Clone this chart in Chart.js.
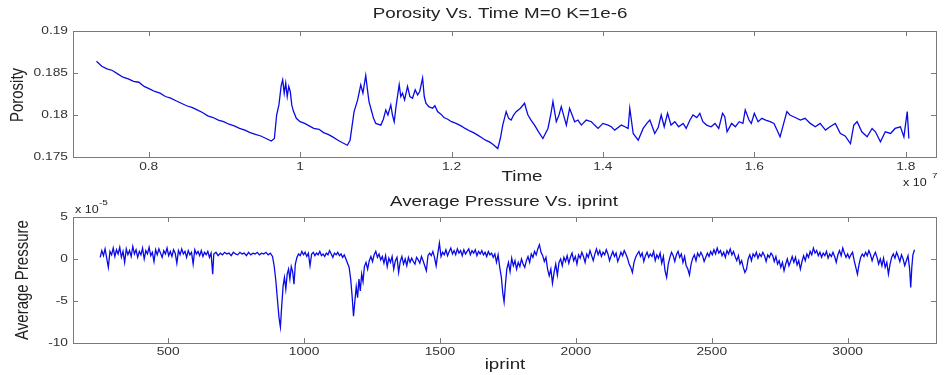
<!DOCTYPE html>
<html>
<head>
<meta charset="utf-8">
<script src="https://cdn.jsdelivr.net/npm/chart.js@4.4.1/dist/chart.umd.min.js"></script>
<style>
html, body { margin: 0; padding: 0; background: #fff; }
#wrap { position: relative; width: 946px; height: 375px; }
.box { position: absolute; left: 0; width: 946px; }
</style>
</head>
<body>
<div id="wrap">
  <div class="box" style="top:0;height:190px"><canvas id="porosityChart"></canvas></div>
  <div class="box" style="top:190px;height:185px"><canvas id="pressureChart"></canvas></div>
</div>
<script>
// porosity vs time (time in units of 1e7)
const timeE7 = [
  0.731,0.738,0.745,0.752,0.759,0.766,0.773,0.780,0.787,0.794,
  0.801,0.808,0.815,0.822,0.829,0.836,0.843,0.850,0.857,0.864,
  0.871,0.878,0.885,0.892,0.899,0.906,0.913,0.920,0.927,0.934,
  0.941,0.948,0.955,0.962,
  0.966,0.969,0.972,0.975,0.977,0.979,0.981,0.983,0.985,0.987,
  0.989,0.991,0.995,1.000,1.006,1.012,1.018,1.025,1.031,1.037,
  1.043,1.050,1.056,1.0625,
  1.066,1.0713,1.076,1.0801,1.083,1.0867,1.089,1.091,1.094,1.097,
  1.100,1.1066,1.110,1.1132,1.116,1.1198,1.122,1.1243,1.127,1.1309,
  1.133,1.1353,1.138,1.1419,1.145,1.1485,1.152,1.1552,1.158,1.1618,
  1.164,1.1662,1.170,1.175,1.178,1.1816,1.186,1.190,1.195,1.200,
  1.206,1.2126,1.218,1.224,1.229,1.2346,1.240,1.245,1.250,1.255,
  1.2611,1.2645,1.2677,1.2722,1.2755,1.2788,1.282,1.2854,1.291,1.2965,
  1.299,1.301,1.305,1.3097,1.315,1.3207,1.3274,1.331,1.334,1.3384,
  1.342,1.345,1.3517,1.356,1.3627,1.367,1.3715,1.378,1.3848,1.389,
  1.3936,1.400,1.4068,1.411,1.4156,1.4245,1.429,1.4333,1.4355,1.440,
  1.4466,1.4532,1.458,1.462,
  1.4685,1.473,1.477,1.481,1.4854,1.490,1.495,1.500,1.506,1.510,
  1.515,1.519,1.524,1.528,1.532,1.537,1.543,1.548,1.553,1.558,
  1.561,1.564,1.570,1.575,1.580,1.585,1.588,1.593,1.596,1.600,
  1.605,1.610,1.615,1.621,1.626,1.631,1.634,
  1.643,1.647,1.654,1.661,1.667,1.674,1.6805,1.687,1.694,1.700,
  1.707,1.7137,1.720,1.727,1.7314,1.7358,1.742,1.749,1.7556,1.760,
  1.7666,1.773,1.780,1.786,1.793,1.7976,1.802,1.8042
];
const porosity = [
  0.1864,0.1858,0.1855,0.1853,0.1849,0.1845,0.1843,0.1840,0.1839,0.1834,
  0.1831,0.1828,0.1826,0.1822,0.1820,0.1817,0.1814,0.1811,0.1809,0.1806,
  0.1803,0.1799,0.1797,0.1794,0.1792,0.1789,0.1787,0.1784,0.1782,0.1779,
  0.1777,0.1775,0.1772,0.1769,
  0.1772,0.1800,0.1812,0.1835,0.1842,0.1826,0.1838,0.1822,0.1834,0.1828,
  0.1812,0.1805,0.1796,0.1792,0.1790,0.1787,0.1784,0.1783,0.1779,0.1777,
  0.1774,0.1770,0.1767,0.1764,
  0.1770,0.1804,0.1818,0.1836,0.1826,0.1847,0.1830,0.1816,0.1806,0.1796,
  0.1790,0.1788,0.1795,0.1806,0.1800,0.1812,0.1800,0.1792,0.1812,0.1836,
  0.1822,0.1826,0.1818,0.1834,0.1822,0.1820,0.1830,0.1824,0.1828,0.1844,
  0.1822,0.1814,0.1810,0.1808,0.1811,0.1804,0.1801,0.1797,0.1795,0.1792,
  0.1790,0.1787,0.1784,0.1781,0.1779,0.1776,0.1773,0.1770,0.1768,0.1765,
  0.1760,0.1772,0.1788,0.1804,0.1796,0.1794,0.1800,0.1804,0.1808,0.1814,
  0.1806,0.1800,0.1794,0.1788,0.1780,0.1772,0.1784,0.1800,0.1816,0.1792,
  0.1800,0.1810,0.1788,0.1808,0.1792,0.1794,0.1788,0.1794,0.1792,0.1788,
  0.1784,0.1790,0.1788,0.1786,0.1782,0.1788,0.1786,0.1784,0.1808,0.1778,
  0.1770,0.1784,0.1790,0.1794,
  0.1778,0.1785,0.1800,0.1786,0.1802,0.1788,0.1792,0.1786,0.1790,0.1784,
  0.1794,0.1800,0.1797,0.1802,0.1792,0.1788,0.1786,0.1790,0.1784,0.1802,
  0.1798,0.1780,0.1790,0.1786,0.1792,0.1790,0.1806,0.1794,0.1790,0.1802,
  0.1792,0.1796,0.1794,0.1792,0.1790,0.1780,0.1774,
  0.1804,0.1800,0.1797,0.1794,0.1796,0.1790,0.1786,0.1790,0.1782,0.1786,
  0.1790,0.1778,0.1775,0.1766,0.1788,0.1792,0.1780,0.1774,0.1784,0.1780,
  0.1768,0.1780,0.1778,0.1784,0.1786,0.1774,0.1804,0.1772
];
const timeTicks = [0.8, 1, 1.2, 1.4, 1.6, 1.8];
const timeTickLabels = ['0.8', '1', '1.2', '1.4', '1.6', '1.8'];
const porosityTicks = [0.175, 0.18, 0.185, 0.19];
const porosityTickLabels = ['0.175', '0.18', '0.185', '0.19'];

// average pressure vs iprint (pressure in units of 1e-5)
const iprint = [
  250,256,262,268,274,280,286,292,298,304,
  310,316,322,328,334,340,346,352,358,364,
  370,376,382,388,394,400,406,412,418,424,
  430,436,442,448,454,460,466,472,478,484,
  490,496,502,508,514,520,526,532,538,544,
  550,556,562,568,574,580,586,592,598,604,
  610,616,622,628,634,640,646,652,658,664,
  668,676,684,692,700,708,716,724,732,740,
  748,756,764,772,780,788,796,804,812,820,
  828,836,844,852,860,868,876,884,890,896,
  902,908,913,918,923,928,933,938,943,948,
  953,958,963,968,974,980,986,992,998,1004,
  1010,1016,1022,1028,1034,1040,1046,1052,1058,1064,
  1070,1076,1082,1088,1094,1100,1106,1112,1118,1124,
  1130,1136,1142,1148,1154,1160,1166,1172,1177,1182,
  1187,1192,1197,1202,1207,1212,1217,1222,1228,1234,
  1240,1246,1252,1258,1264,1270,1276,1282,1288,1294,
  1300,1306,1312,1318,1324,1330,1336,1342,1348,1354,
  1360,1366,1372,1378,1384,1390,1396,1402,1408,1414,
  1420,1426,1432,1438,1444,1450,1456,1462,1468,1474,
  1480,1486,1492,1498,1504,1510,1516,1522,1528,1534,
  1540,1546,1552,1558,1564,1570,1576,1582,1588,1594,
  1600,1606,1612,1618,1624,1630,1636,1642,1648,1654,
  1660,1666,1672,1678,1684,1690,1696,1702,1708,1714,
  1720,1726,1731,1736,1741,1746,1752,1758,1764,1770,
  1776,1782,1788,1794,1800,1806,1812,1818,1824,1830,
  1836,1842,1848,1854,1860,1866,1872,1878,1884,1890,
  1896,1902,1908,1914,1920,1926,1932,1938,1944,1950,
  1956,1962,1968,1974,1980,1986,1992,1998,2004,2010,
  2016,2022,2028,2034,2040,2046,2052,2058,2064,2070,
  2076,2082,2088,2094,2100,2106,2112,2118,2124,2130,
  2136,2142,2148,2154,2160,2166,2172,2178,2184,2190,
  2196,2202,2208,2214,2220,2226,2232,2238,2244,2250,
  2256,2262,2268,2274,2280,2286,2292,2298,2304,2310,
  2316,2322,2328,2334,2340,2346,2352,2358,2364,2370,
  2376,2382,2388,2394,2400,2406,2412,2418,2424,2430,
  2436,2442,2448,2454,2460,2466,2472,2478,2484,2490,
  2496,2502,2508,2514,2520,2526,2532,2538,2544,2550,
  2556,2562,2568,2574,2580,2586,2592,2598,2604,2610,
  2616,2622,2628,2634,2640,2646,2652,2658,2664,2670,
  2676,2682,2688,2694,2700,2706,2712,2718,2724,2730,
  2736,2742,2748,2754,2760,2766,2772,2778,2784,2790,
  2796,2802,2808,2814,2820,2826,2832,2838,2844,2850,
  2856,2862,2868,2874,2880,2886,2892,2898,2904,2910,
  2916,2922,2928,2934,2940,2946,2952,2958,2964,2970,
  2976,2982,2988,2994,3000,3006,3012,3018,3024,3030,
  3036,3042,3048,3054,3060,3066,3072,3078,3084,3090,
  3096,3102,3108,3114,3120,3126,3132,3138,3144,3150,
  3156,3162,3168,3174,3180,3186,3192,3198,3204,3210,
  3216,3222,3228,3232,3236,3240,3246
];
const avgPressure = [
  0.2,1.0,0.4,1.2,0.1,-1.0,0.9,0.5,1.3,0.3,
  1.1,0.6,1.4,0.2,0.9,-0.4,1.2,0.5,1.0,0.3,
  1.5,0.6,1.1,0.2,0.9,0.5,1.3,0.0,1.0,0.6,
  1.4,0.4,0.8,-0.3,1.1,0.5,1.2,0.7,0.2,1.0,
  0.6,1.3,0.4,0.9,0.3,1.1,0.7,-0.5,1.0,0.5,
  1.2,0.6,0.9,0.2,1.0,0.5,0.8,-0.6,1.1,0.6,
  0.9,0.4,1.0,0.3,0.8,0.5,0.9,0.2,0.7,-1.8,
  0.6,0.8,0.4,0.7,0.5,0.8,0.6,0.7,0.4,0.8,
  0.6,0.5,0.8,0.6,0.7,0.4,0.8,0.5,0.7,0.6,
  0.8,0.5,0.7,0.6,0.8,0.5,0.7,0.3,-0.8,-2.5,
  -4.8,-7.0,-8.1,-5.5,-3.2,-2.2,-3.6,-1.8,-1.2,-2.4,
  -0.9,-1.5,-3.0,-0.6,0.2,0.6,0.4,0.9,0.5,0.8,
  0.3,0.7,-0.8,0.6,0.8,0.4,0.7,0.5,0.9,0.4,
  0.6,0.3,0.7,0.5,1.0,0.6,0.2,0.7,0.5,0.8,
  0.4,0.6,0.2,0.5,0.0,-0.5,-1.0,-2.5,-4.5,-6.8,
  -5.0,-3.3,-4.6,-2.4,-3.8,-1.8,-2.7,-0.9,-0.4,-1.2,
  -0.2,0.3,-0.3,0.5,0.9,0.2,0.6,-0.1,0.3,-0.5,
  0.4,-0.9,0.1,-0.4,0.3,-1.2,-0.2,0.2,-1.6,-0.3,
  0.3,-0.6,0.0,-0.8,0.2,-0.4,0.1,-0.3,-0.6,0.2,
  -0.1,-0.5,0.3,-0.2,-0.8,-1.4,0.4,0.7,0.4,0.9,
  0.2,-0.8,0.6,1.9,0.3,0.8,0.5,1.1,0.4,0.9,
  1.3,0.6,1.0,0.5,1.2,0.7,1.0,0.4,1.1,0.6,
  0.9,1.2,0.5,1.0,0.7,1.1,0.4,0.9,0.6,1.0,
  0.5,0.8,0.3,0.9,0.5,0.7,0.2,0.6,-0.4,0.5,
  -1.0,-2.2,-4.0,-5.1,-3.0,-1.2,-0.4,-1.5,0.1,-0.8,
  -0.2,-1.2,-0.4,-0.9,0.0,-0.6,-1.0,-0.2,0.3,-0.4,
  0.6,0.2,0.9,0.5,1.2,1.7,0.8,0.4,-0.3,0.2,
  -1.2,-2.0,-1.2,-2.9,-1.6,-0.6,-1.9,-0.4,0.0,-0.8,
  0.2,-0.3,0.4,-0.5,0.2,0.7,-0.2,0.3,-0.6,0.5,
  0.1,0.8,0.3,-0.4,0.6,0.2,1.0,0.4,-0.2,0.6,
  1.2,0.5,1.0,0.3,0.8,0.5,1.1,0.6,-0.2,0.4,
  0.9,0.3,0.7,-0.3,0.2,0.8,0.4,1.0,0.6,0.1,
  -0.6,-1.0,-1.6,-0.4,0.2,0.6,0.9,0.3,0.7,-0.3,
  0.4,0.8,0.2,0.6,0.3,0.9,-0.2,0.5,0.1,0.7,
  -0.5,0.3,-1.4,-2.2,-0.6,0.2,0.8,0.4,-0.3,0.5,
  0.9,0.2,0.6,-0.4,0.3,-0.8,-1.2,-1.9,-0.6,0.1,
  0.5,-0.2,0.7,0.3,0.8,0.4,-0.3,0.2,0.7,0.3,
  0.9,0.5,1.1,0.6,1.3,0.7,1.0,0.4,0.8,0.2,
  1.0,0.6,1.2,0.5,0.9,0.3,-0.2,0.4,-0.6,-0.2,
  -1.0,-1.6,-1.2,0.0,0.5,-0.2,0.6,0.3,0.8,0.1,
  0.6,0.3,0.8,0.4,-0.3,0.5,0.2,0.7,0.4,-0.3,
  0.3,-0.6,-0.2,-1.0,-0.4,-1.4,-0.6,0.0,-0.8,-0.3,
  0.3,-0.4,0.2,-0.7,-0.2,-1.2,-0.3,0.4,-0.2,0.6,
  0.2,0.9,0.5,1.3,0.7,1.0,0.4,0.8,0.2,0.7,
  0.4,0.9,0.1,0.6,0.3,0.8,0.3,-0.4,0.5,1.0,
  0.4,1.3,0.7,0.2,0.6,0.1,0.5,0.8,-0.2,-1.0,
  -1.8,-0.6,0.2,0.6,0.3,0.8,0.4,1.0,0.5,-0.2,
  0.4,0.8,0.2,-0.6,0.0,-0.8,0.1,-1.0,-0.4,-1.8,
  -0.6,0.2,0.6,0.1,0.8,0.3,-0.3,0.5,0.0,-0.8,
  -0.2,0.4,-1.2,-3.4,-1.0,0.5,1.1
];
const iprintTicks = [500, 1000, 1500, 2000, 2500, 3000];
const iprintTickLabels = ['500', '1000', '1500', '2000', '2500', '3000'];
const pressureTicks = [-10, -5, 0, 5];
const pressureTickLabels = ['-10', '-5', '0', '5'];

const FONT = '"Liberation Sans", Arial, sans-serif';
const SX = 1.25; // the reference text is stretched sideways

function drawText(ctx, text, x, y, size, align, rotate) {
  ctx.save();
  ctx.translate(x, y);
  ctx.scale(SX, 1);
  if (rotate) ctx.rotate(-Math.PI / 2);
  ctx.font = size + 'px ' + FONT;
  ctx.textAlign = align || 'center';
  ctx.textBaseline = 'middle';
  ctx.fillText(text, 0, 0);
  ctx.restore();
}

// box, inward ticks on all four sides, tick labels and titles
const framePlugin = {
  id: 'frame',
  afterDraw(chart, args, opts) {
    const ctx = chart.ctx;
    const a = chart.chartArea;
    const sx = chart.scales.x, sy = chart.scales.y;
    ctx.save();
    ctx.strokeStyle = '#7a7a7a';
    ctx.lineWidth = 1;
    ctx.strokeRect(a.left + 0.5, a.top + 0.5, a.right - a.left, a.bottom - a.top);
    ctx.beginPath();
    sx.ticks.forEach(t => {
      const px = Math.round(sx.getPixelForValue(t.value)) + 0.5;
      ctx.moveTo(px, a.bottom); ctx.lineTo(px, a.bottom - 5);
      ctx.moveTo(px, a.top); ctx.lineTo(px, a.top + 5);
    });
    sy.ticks.forEach(t => {
      const py = Math.round(sy.getPixelForValue(t.value)) + 0.5;
      ctx.moveTo(a.left, py); ctx.lineTo(a.left + 5, py);
      ctx.moveTo(a.right, py); ctx.lineTo(a.right - 5, py);
    });
    ctx.stroke();

    ctx.fillStyle = '#333';
    sx.ticks.forEach((t, i) => {
      drawText(ctx, opts.xLabels[i], sx.getPixelForValue(t.value), a.bottom + opts.xLabelGap, 11, 'center');
    });
    sy.ticks.forEach((t, i) => {
      drawText(ctx, opts.yLabels[i], a.left - 5, sy.getPixelForValue(t.value), 11, 'right');
    });
    ctx.fillStyle = '#222';
    opts.texts.forEach(t => drawText(ctx, t.text, t.x, t.y, t.size, t.align, t.rotate));
    ctx.restore();
  }
};

function makeChart(id, xs, ys, cfg) {
  return new Chart(document.getElementById(id), {
    type: 'line',
    data: {
      datasets: [{
        data: xs.map((x, i) => ({ x: x, y: ys[i] })),
        borderColor: '#0a0ae6',
        borderWidth: 1.3,
        pointRadius: 0,
        tension: 0,
        fill: false
      }]
    },
    options: {
      responsive: true,
      maintainAspectRatio: false,
      animation: false,
      devicePixelRatio: 1,
      layout: { padding: { top: cfg.padTop, right: 10, left: 0, bottom: 0 } },
      plugins: {
        legend: { display: false },
        title: { display: false },
        tooltip: { enabled: false },
        frame: cfg.frame
      },
      scales: {
        x: {
          type: 'linear',
          min: cfg.xMin,
          max: cfg.xMax,
          grid: { display: false },
          border: { display: false },
          ticks: { display: false },
          afterBuildTicks: s => { s.ticks = cfg.xTicks.map(v => ({ value: v })); },
          afterFit: s => { s.height = cfg.xHeight; }
        },
        y: {
          type: 'linear',
          min: cfg.yMin,
          max: cfg.yMax,
          grid: { display: false },
          border: { display: false },
          ticks: { display: false },
          afterBuildTicks: s => { s.ticks = cfg.yTicks.map(v => ({ value: v })); },
          afterFit: s => { s.width = 73; }
        }
      }
    },
    plugins: [framePlugin]
  });
}

makeChart('porosityChart', timeE7, porosity, {
  padTop: 31, xHeight: 33,
  xMin: 0.7, xMax: 1.84, yMin: 0.175, yMax: 0.19,
  xTicks: timeTicks, yTicks: porosityTicks,
  frame: {
    xLabels: timeTickLabels, yLabels: porosityTickLabels, xLabelGap: 10,
    texts: [
      { text: 'Porosity Vs. Time M=0 K=1e-6', x: 500, y: 14, size: 15 },
      { text: 'Time', x: 522, y: 177, size: 15 },
      { text: 'Porosity', x: 18, y: 95, size: 15, rotate: true },
      { text: 'x 10', x: 903, y: 183, size: 10, align: 'left' },
      { text: '7', x: 932, y: 176, size: 8, align: 'left' }
    ]
  }
});

makeChart('pressureChart', iprint, avgPressure, {
  padTop: 27, xHeight: 32,
  xMin: 150, xMax: 3325, yMin: -10, yMax: 5,
  xTicks: iprintTicks, yTicks: pressureTicks,
  frame: {
    xLabels: iprintTickLabels, yLabels: pressureTickLabels, xLabelGap: 9,
    texts: [
      { text: 'Average Pressure Vs. iprint', x: 504, y: 12, size: 15 },
      { text: 'iprint', x: 505, y: 175, size: 15 },
      { text: 'Average Pressure', x: 23, y: 90, size: 15, rotate: true },
      { text: 'x 10', x: 75, y: 20, size: 10, align: 'left' },
      { text: '-5', x: 99, y: 13, size: 8, align: 'left' }
    ]
  }
});
</script>
</body>
</html>
